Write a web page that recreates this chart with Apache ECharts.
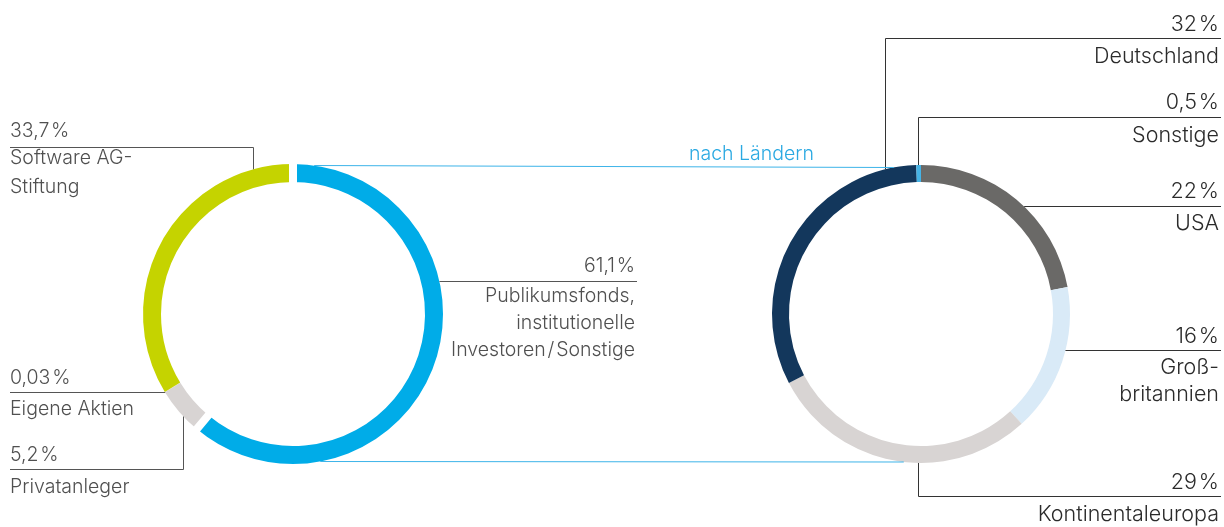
<!DOCTYPE html>
<html>
<head>
<meta charset="utf-8">
<title>Aktionärsstruktur</title>
<script src="https://cdn.jsdelivr.net/npm/echarts@6/dist/echarts.min.js"></script>
<style>
  html, body { margin: 0; padding: 0; background: #fff; }
  #chart { width: 1224px; height: 527px; }
</style>
</head>
<body>
<div id="chart"></div>
<script>
// Aktionärsstruktur (links) und Aufteilung nach Ländern (rechts)
const holderNames = ['Publikumsfonds,\ninstitutionelle\nInvestoren\u200a/\u200aSonstige', 'Privatanleger', 'Eigene Aktien', 'Software AG-\nStiftung']
const holderValues = [61.1, 5.2, 0.03, 33.7]
const holderColors = ['#00ace8', '#d8d4d3', '#d8d4d3', '#c5d300']

const countryNames = ['USA', 'Groß-\nbritannien', 'Kontinentaleuropa', 'Deutschland', 'Sonstige']
const countryValues = [22, 16, 29, 32, 0.5]
const countryColors = ['#6a6967', '#d9eaf7', '#d8d4d3', '#13375c', '#45b3e6']

const linkTitle = 'nach Ländern'

// Geometrie der beiden Ringe
const leftRing = { cx: 293, cy: 314, r0: 132, r: 150 }
const rightRing = { cx: 921, cy: 314, r0: 132, r: 149 }
const gap = 8 // weiße Lücke an beiden Enden des blauen Segments

// Beschriftungen: Position der Führungslinie und der Texte (Reihenfolge wie die Daten)
const holderLabelPos = [
  { x: 635, align: 'right', lineY: 281.5, pctY: 266.5, nameY: 296, lh: 27 },
  { x: 10, align: 'left', lineY: 469.5, elbowX: 183.5, pctY: 455, nameY: 487, lh: 27 },
  { x: 10, align: 'left', lineY: 392.5, pctY: 378, nameY: 409, lh: 27 },
  { x: 10, align: 'left', lineY: 147.5, elbowX: 253.5, pctY: 131.5, nameY: 158, lh: 29 }
]
const countryLabelPos = [
  { x: 1219, align: 'right', lineY: 206.5, pctY: 192, nameY: 224, lh: 27 },
  { x: 1219, align: 'right', lineY: 350.5, pctY: 337, nameY: 368, lh: 27 },
  { x: 1219, align: 'right', lineY: 496.5, elbowX: 918.5, pctY: 483, nameY: 515, lh: 27 },
  { x: 1219, align: 'right', lineY: 38.5, elbowX: 885.5, pctY: 24.5, nameY: 57, lh: 27 },
  { x: 1219, align: 'right', lineY: 117.5, elbowX: 918.5, pctY: 103, nameY: 135.5, lh: 27 }
]

const fmt = v => String(v).replace('.', ',') + '\u200a%'

function edgeX(ring, y, side) {
  return ring.cx + side * Math.sqrt(Math.max(0, ring.r * ring.r - (y - ring.cy) * (y - ring.cy)))
}
function edgeY(ring, x, side) {
  return ring.cy + side * Math.sqrt(Math.max(0, ring.r * ring.r - (x - ring.cx) * (x - ring.cx)))
}

const myChart = echarts.init(document.getElementById('chart'))
const graphics = []

function addLine(x1, y1, x2, y2, color) {
  graphics.push({ type: 'line', z: 100, silent: true, shape: { x1, y1, x2, y2 }, style: { stroke: color, lineWidth: 1 } })
}
function addText(text, x, y, align, font, color) {
  graphics.push({
    type: 'text', z: 101, silent: true,
    style: { text, x, y, fill: color, font, align, verticalAlign: 'middle', textAlign: align, textVerticalAlign: 'middle' }
  })
}

function addLabels(ring, names, values, pos, font, textColor, lineColor, lineEnd) {
  names.forEach((name, i) => {
    const p = pos[i]
    const sideX = p.align === 'left' ? -1 : 1
    let ringX
    if (p.elbowX !== undefined) {
      // Knick: senkrechte Linie bis zum Ring
      const sideY = p.lineY < ring.cy ? -1 : 1
      addLine(p.elbowX, p.lineY, p.elbowX, edgeY(ring, p.elbowX, sideY), lineColor)
      ringX = p.elbowX
    } else {
      ringX = edgeX(ring, p.lineY, sideX)
    }
    addLine(ringX, p.lineY, lineEnd, p.lineY, lineColor)
    addText(fmt(values[i]), p.x, p.pctY, p.align, font, textColor)
    name.split('\n').forEach((row, k) => addText(row, p.x, p.nameY + k * p.lh, p.align, font, textColor))
  })
}

// linke Seite: Publikumsfonds mittig, Rest am linken Rand
addLabels(leftRing, holderNames.slice(0, 1), holderValues.slice(0, 1), holderLabelPos.slice(0, 1), '300 19.5px Inter', '#505050', '#555', 637)
addLabels(leftRing, holderNames.slice(1), holderValues.slice(1), holderLabelPos.slice(1), '300 19.5px Inter', '#505050', '#555', 10)
addLabels(rightRing, countryNames, countryValues, countryLabelPos, '300 21.5px Inter', '#2b2b2b', '#333', 1221)

// Verbindungslinien zwischen den Ringen
const topY1 = leftRing.cy - leftRing.r + 1.5
const topY2 = topY1 + 2
addLine(edgeX(leftRing, topY1, 1), topY1, edgeX(rightRing, topY2, -1), topY2, '#3db4e9')
const botY1 = leftRing.cy + leftRing.r - 2.5
const botY2 = botY1 + 0.5
addLine(edgeX(leftRing, botY1, 1), botY1, edgeX(rightRing, botY2, -1), botY2, '#3db4e9')
addText(linkTitle, 751.5, 154.5, 'center', '300 19.5px Inter', '#2aa9e2')

function ringData(names, values, colors) {
  return names.map((n, i) => ({ name: n, value: values[i], itemStyle: { color: colors[i], borderWidth: 0 } }))
}

const common = {
  type: 'pie',
  startAngle: 90,
  clockwise: true,
  silent: true,
  animation: false,
  label: { show: false },
  labelLine: { show: false },
  emphasis: { disabled: true }
}

let option = {
  backgroundColor: '#fff',
  series: [
    Object.assign({}, common, {
      center: [leftRing.cx, leftRing.cy],
      radius: [leftRing.r0, leftRing.r],
      data: ringData(holderNames, holderValues, holderColors),
      z: 2
    }),
    // gleicher Ring, nur das blaue Segment mit weißem Rand -> Lücken an beiden Enden
    Object.assign({}, common, {
      center: [leftRing.cx, leftRing.cy],
      radius: [leftRing.r0 - gap / 2, leftRing.r + gap / 2],
      data: holderNames.map((n, i) => ({
        name: n,
        value: holderValues[i],
        itemStyle: i === 0
          ? { color: holderColors[i], borderColor: '#fff', borderWidth: gap, borderJoin: 'bevel' }
          : { color: 'transparent', borderWidth: 0 }
      })),
      z: 3
    }),
    Object.assign({}, common, {
      center: [rightRing.cx, rightRing.cy],
      radius: [rightRing.r0, rightRing.r],
      data: ringData(countryNames, countryValues, countryColors),
      z: 2
    })
  ],
  graphic: { elements: graphics }
}

option && myChart.setOption(option)
window.addEventListener('resize', () => {
  myChart.resize()
})
</script>
</body>
</html>
